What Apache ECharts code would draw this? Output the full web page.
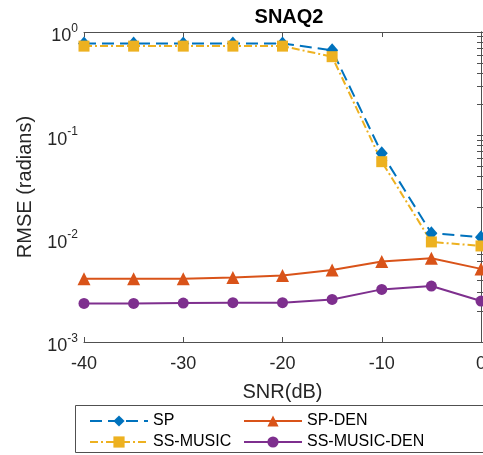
<!DOCTYPE html>
<html><head><meta charset="utf-8">
<script src="https://cdn.jsdelivr.net/npm/echarts@6/dist/echarts.min.js"></script>
<style>html,body{margin:0;padding:0;background:#fff}#c{width:483px;height:455px}</style>
</head><body><div id="c"></div>
<script>
const snr = [-40, -35, -30, -25, -20, -15, -10, -5, 0];
const sp = [0.775, 0.775, 0.775, 0.775, 0.775, 0.665, 0.067, 0.0113, 0.0103];
const ssMusic = [0.73, 0.73, 0.73, 0.73, 0.73, 0.577, 0.0556, 0.0093, 0.0085];
const spDen = [0.0041, 0.0041, 0.0041, 0.0042, 0.0044, 0.00497, 0.006, 0.00646, 0.0051];
const ssMusicDen = [0.00236, 0.00236, 0.00238, 0.0024, 0.0024, 0.00258, 0.00323, 0.00348, 0.00249];
const seriesNames = ['SP', 'SS-MUSIC', 'SP-DEN', 'SS-MUSIC-DEN'];
const yMajorTicks = [0.001, 0.01, 0.1, 1];
const yAllTicks = [0.001, 0.002, 0.003, 0.004, 0.005, 0.006, 0.007, 0.008, 0.009,
  0.01, 0.02, 0.03, 0.04, 0.05, 0.06, 0.07, 0.08, 0.09,
  0.1, 0.2, 0.3, 0.4, 0.5, 0.6, 0.7, 0.8, 0.9, 1];

const axisColor = '#262626';
const lineColor = '#505050';
const font = 'Liberation Sans, Arial, Helvetica, sans-serif';
const chart = echarts.init(document.getElementById('c'), null, {renderer: 'canvas'});
const pair = d => snr.map((x, i) => [x, d[i]]);

const supFmt = v => {
  const e = Math.round(Math.log10(v));
  return '{b|10}{s|' + e + '}';
};

chart.setOption({
  animation: false,
  backgroundColor: '#fff',
  textStyle: {fontFamily: font},
  title: {text: 'SNAQ2', left: 284, textAlign: 'center', top: 2,
    textStyle: {fontSize: 20, fontWeight: 'bold', color: '#000', fontFamily: font}},
  grid: {left: 84, right: 2, top: 32, bottom: 113, outerBoundsMode: 'none', containLabel: false},
  xAxis: [{
    type: 'value', min: -40, max: 0, interval: 10,
    name: 'SNR(dB)', nameLocation: 'middle', nameGap: 40,
    nameTextStyle: {fontSize: 20, color: axisColor, fontFamily: font},
    axisLine: {lineStyle: {color: lineColor, width: 1}},
    axisTick: {inside: true, length: 5, lineStyle: {color: lineColor}},
    axisLabel: {fontSize: 18, color: axisColor, margin: 13, fontFamily: font},
    splitLine: {show: false}
  }, {
    type: 'value', min: -40, max: 0, interval: 10, position: 'top',
    axisLine: {lineStyle: {color: lineColor, width: 1}},
    axisTick: {inside: true, length: 5, lineStyle: {color: lineColor}},
    axisLabel: {show: false}, splitLine: {show: false}
  }],
  yAxis: [{
    type: 'log', logBase: 10, min: 0.001, max: 1,
    name: 'RMSE (radians)', nameLocation: 'middle', nameGap: 49,
    nameTextStyle: {fontSize: 20, color: axisColor, fontFamily: font},
    axisLine: {lineStyle: {color: lineColor, width: 1}},
    axisTick: {inside: true, length: 4, customValues: yAllTicks, lineStyle: {color: lineColor}},
    axisLabel: {formatter: supFmt, margin: 6, color: axisColor, customValues: yMajorTicks,
      rich: {b: {fontSize: 18, lineHeight: 18, color: axisColor, fontFamily: font, padding: [9, 0, 0, 0]},
             s: {fontSize: 12, lineHeight: 12, color: axisColor, fontFamily: font, padding: [4, 0, 11, 0]}}},
    splitLine: {show: false}
  }, {
    type: 'log', logBase: 10, min: 0.001, max: 1, position: 'right',
    axisLine: {lineStyle: {color: lineColor, width: 1}},
    axisTick: {inside: true, length: 4, customValues: yAllTicks, lineStyle: {color: lineColor}},
    axisLabel: {show: false}, splitLine: {show: false}
  }],
  legend: [{
    data: ['SP', 'SS-MUSIC'], orient: 'vertical', left: 89, top: 413, height: 80, padding: 0,
    itemWidth: 58, itemHeight: 14, itemGap: 5,
    textStyle: {fontSize: 16, lineHeight: 16, color: '#000', fontFamily: font}
  }, {
    data: ['SP-DEN', 'SS-MUSIC-DEN'], orient: 'vertical', left: 243, top: 413, height: 80, padding: 0,
    itemWidth: 58, itemHeight: 14, itemGap: 5,
    textStyle: {fontSize: 16, lineHeight: 16, color: '#000', fontFamily: font}
  }],
  graphic: [{type: 'rect', shape: {x: 75.5, y: 405.5, width: 430, height: 47},
    style: {fill: 'none', stroke: lineColor, lineWidth: 1}, silent: true}],
  series: [
    {name: seriesNames[0], type: 'line', data: pair(sp), symbol: 'diamond', symbolSize: [12, 14],
     itemStyle: {color: '#0072BD'}, lineStyle: {width: 2, type: [12, 6], color: '#0072BD'}},
    {name: seriesNames[1], type: 'line', data: pair(ssMusic), symbol: 'rect', symbolSize: 11,
     itemStyle: {color: '#EDB120'}, lineStyle: {width: 2, type: [8, 3, 2, 3], color: '#EDB120'}},
    {name: seriesNames[2], type: 'line', data: pair(spDen), symbol: 'triangle', symbolSize: 13,
     itemStyle: {color: '#D95319'}, lineStyle: {width: 2, color: '#D95319'}},
    {name: seriesNames[3], type: 'line', data: pair(ssMusicDen), symbol: 'circle', symbolSize: 11,
     itemStyle: {color: '#7E2F8E'}, lineStyle: {width: 2, color: '#7E2F8E'}}
  ]
});
</script></body></html>
